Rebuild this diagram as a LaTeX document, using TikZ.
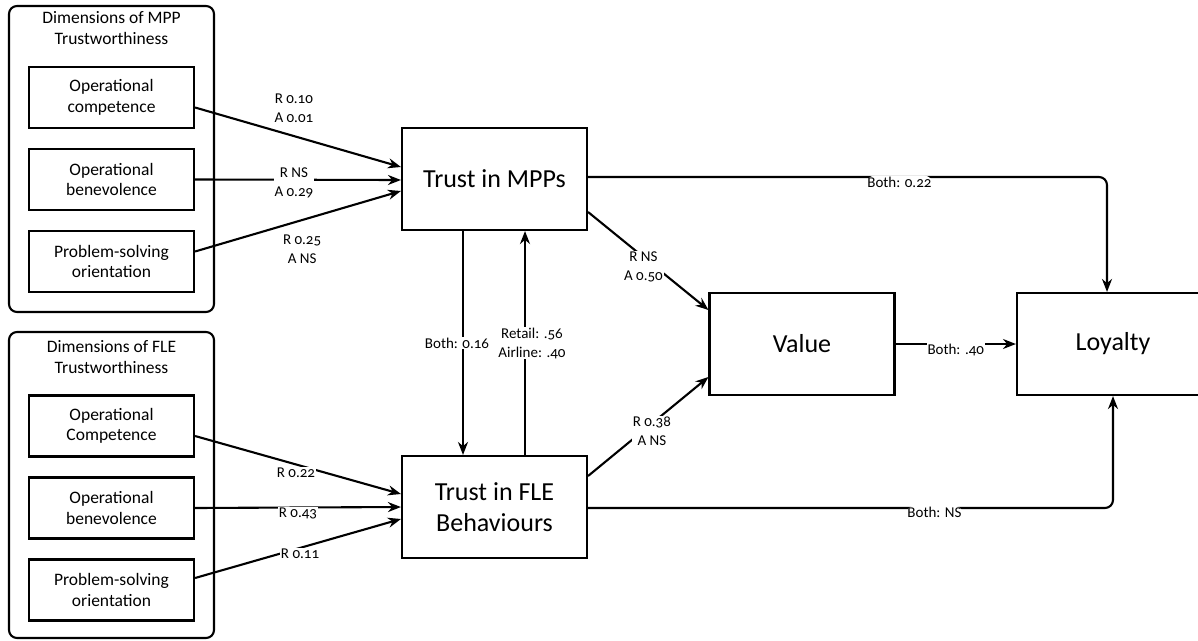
\documentclass[tikz,border=0pt]{standalone}
\usepackage{fontspec}
\setmainfont{Carlito}[Numbers=OldStyle]
\usepackage{tikz}
\usetikzlibrary{arrows.meta,positioning}
\newcommand{\boxfont}{\fontsize{17.5}{20.5}\selectfont}
\newcommand{\bigfont}{\fontsize{26}{31}\selectfont}
\newcommand{\lblfont}{\fontsize{15}{19}\selectfont}

\begin{document}
\begin{tikzpicture}[x=1pt,y=-1pt]
\tikzstyle{every path}=[line width=2.1pt];
\tikzstyle{grp}=[draw, rounded corners=8pt, minimum width=205pt, minimum height=306pt];
\tikzstyle{dim}=[draw, align=center, font=\boxfont, minimum width=165pt, minimum height=61pt, inner sep=0pt];
\tikzstyle{construct}=[draw, align=center, font=\bigfont, minimum width=185pt, minimum height=102pt, inner sep=0pt];
\tikzstyle{lbl}=[align=center, font=\lblfont, fill=white, inner sep=1pt];
\tikzstyle{arr}=[-{Stealth[length=13pt,width=10pt]}];
\useasboundingbox (0,0) rectangle (1198,640);
\path (111.5,159) node (mppgrp)[grp] {}
(111.5,28) node (mpptitle)[align=center, font=\boxfont] {Dimensions of MPP\\Trustworthiness}
(111.5,97.5) node (mppA)[dim] {Operational\\competence}
(111.5,179.5) node (mppB)[dim] {Operational\\benevolence}
(111.5,261.5) node (mppC)[dim] {Problem-solving\\orientation}
(111.5,485) node (flegrp)[grp] {}
(111.5,357) node (fletitle)[align=center, font=\boxfont] {Dimensions of FLE\\Trustworthiness}
(111.5,426) node (fleA)[dim] {Operational\\Competence}
(111.5,508) node (fleB)[dim] {Operational\\benevolence}
(111.5,590) node (fleC)[dim] {Problem-solving\\orientation}
(494.5,179) node (tmpp)[construct] {Trust in MPPs}
(494.5,507) node (tfle)[construct] {Trust in FLE\\Behaviours}
(802,344) node (value)[construct] {Value}
(1113,344) node (loyal)[construct, minimum width=192pt] {Loyalty};
\draw[arr] ([yshift=-10pt]mppA.east) -- node[lbl, fill=none, pos=0.48, yshift=28pt] {R 0.10\\A 0.01} ([yshift=12pt]tmpp.west);
\draw[arr] (mppB.east) -- node[lbl, pos=0.48, yshift=-3pt] {R NS\\A 0.29} ([yshift=-1pt]tmpp.west);
\draw[arr] ([yshift=10pt]mppC.east) -- node[lbl, fill=none, pos=0.52, yshift=-29pt] {R 0.25\\A NS} ([yshift=-12pt]tmpp.west);
\draw[arr] ([yshift=-10pt]fleA.east) -- node[lbl, pos=0.49, yshift=-8pt] {R 0.22} ([yshift=13pt]tfle.west);
\draw[arr] (fleB.east) -- node[lbl, pos=0.5, yshift=-6pt] {R 0.43} ([yshift=0pt]tfle.west);
\draw[arr] ([yshift=12pt]fleC.east) -- node[lbl, pos=0.51, yshift=-6pt] {R 0.11} ([yshift=-12pt]tfle.west);
\draw[arr] ([xshift=-31.5pt]tmpp.south) -- node[lbl, pos=0.5, xshift=-6pt] {Both: 0.16} ([xshift=-31.5pt]tfle.north);
\draw[arr] ([xshift=30.5pt]tfle.north) -- node[lbl, pos=0.5, xshift=7pt] {Retail: .56\\Airline: .40} ([xshift=30.5pt]tmpp.south);
\draw[arr] ([yshift=-33pt]tmpp.east) -- node[lbl, pos=0.46, yshift=-10pt] {R NS\\A 0.50} ([yshift=34pt]value.west);
\draw[arr] ([yshift=31pt]tfle.east) -- node[lbl, pos=0.53, yshift=-8pt] {R 0.38\\A NS} ([yshift=-33pt]value.west);
\draw[arr] (value.east) -- node[lbl, pos=0.5, yshift=-6pt] {Both: .40} (loyal.west);
\draw[arr, rounded corners=8pt] ([yshift=2pt]tmpp.east) -| node[lbl, pos=0.3, yshift=-5pt] {Both: 0.22} ([xshift=-6pt]loyal.north);
\draw[arr, rounded corners=8pt] ([yshift=-1pt]tfle.east) -| node[lbl, pos=0.33, yshift=-4pt] {Both: NS} (loyal.south);
\end{tikzpicture}
\end{document}
